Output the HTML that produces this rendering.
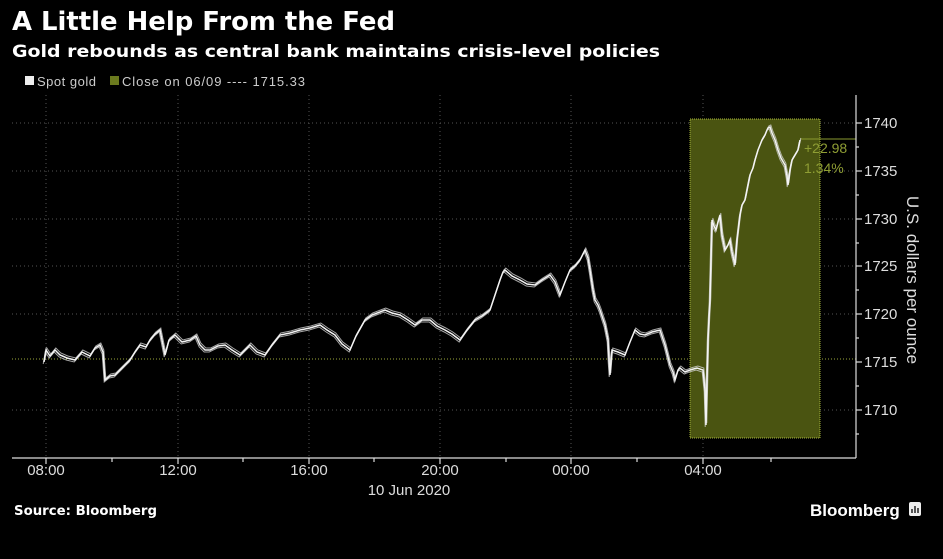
<!DOCTYPE html>
<html><head><meta charset="utf-8"><style>
body{margin:0;background:#000;width:943px;height:554px;overflow:hidden;font-family:"Liberation Sans",sans-serif;}
</style></head><body>
<svg width="943" height="554" xmlns="http://www.w3.org/2000/svg" xmlns:xlink="http://www.w3.org/1999/xlink" font-family="Liberation Sans, sans-serif">
<rect width="943" height="554" fill="#000"/>
<text x="12" y="30" fill="#fff" font-size="26" font-weight="bold" font-family="DejaVu Sans, sans-serif" textLength="383" lengthAdjust="spacingAndGlyphs">A Little Help From the Fed</text>
<text x="12" y="57" fill="#fff" font-size="17" font-weight="bold" font-family="DejaVu Sans, sans-serif" textLength="648" lengthAdjust="spacingAndGlyphs">Gold rebounds as central bank maintains crisis-level policies</text>
<rect x="25" y="76" width="9" height="9" fill="#eee"/>
<text x="37" y="86" fill="#ccc" font-size="13" textLength="59">Spot gold</text>
<rect x="110" y="76" width="9" height="9" fill="#6b7a1e"/>
<text x="122" y="86" fill="#ccc" font-size="13" textLength="183">Close on 06/09 ---- 1715.33</text>
<g stroke="#555" stroke-dasharray="1,3" stroke-width="1">
<line x1="46" y1="95" x2="46" y2="458"/><line x1="178" y1="95" x2="178" y2="458"/><line x1="309" y1="95" x2="309" y2="458"/><line x1="440" y1="95" x2="440" y2="458"/><line x1="571" y1="95" x2="571" y2="458"/><line x1="703" y1="95" x2="703" y2="458"/>
<line x1="12" y1="123" x2="856" y2="123"/><line x1="12" y1="171" x2="856" y2="171"/><line x1="12" y1="219" x2="856" y2="219"/><line x1="12" y1="266" x2="856" y2="266"/><line x1="12" y1="314" x2="856" y2="314"/><line x1="12" y1="410" x2="856" y2="410"/>
</g>
<line x1="12" y1="359" x2="856" y2="359" stroke="#9aa83a" stroke-dasharray="1,2"/>
<rect x="690" y="119" width="130" height="319" fill="#4a5411" stroke="#a8b83a" stroke-dasharray="1,1"/>
<line x1="800" y1="139" x2="856" y2="139" stroke="#8a9a30" stroke-width="1"/>
<defs>
<polyline id="pl" fill="none" points="44,362 46,350 50,356 55,350 60,355 67,358 75,360 82,352 90,356 95,348 100,345 103,352 105,380 110,376 115,375 122,368 130,360 135,352 140,345 146,347 150,340 155,334 160,330 163,345 165,355 169,340 175,335 182,342 190,340 196,336 200,345 205,350 210,350 218,346 225,345 232,350 240,355 245,350 250,345 257,352 265,355 272,345 280,335 290,333 300,330 310,328 320,325 327,330 335,335 342,344 350,350 356,336 365,320 372,315 385,310 392,313 400,315 408,320 415,325 422,320 430,320 437,326 445,330 452,334 460,340 467,330 475,320 482,316 490,310 495,295 500,280 503,272 505,270 512,276 520,280 527,284 535,285 542,280 550,275 555,282 560,295 565,282 570,270 575,266 580,260 583,254 585,250 588,258 590,270 593,290 595,300 598,305 600,310 605,325 608,340 609,360 610,375 611,362 612,350 618,352 625,355 630,342 635,330 640,334 645,335 652,332 660,330 665,345 670,365 673,372 675,380 678,370 680,368 685,372 690,370 697,368 703,370 705,390 706,425 707,380 708,340 709,318 710,300 711,260 712,220 714,226 716,230 718,222 720,215 722,235 725,250 728,245 730,240 732,252 735,265 737,240 740,215 742,205 745,200 748,185 750,175 753,168 755,160 758,150 760,145 762,140 765,135 767,130 768,128 770,127 772,133 775,140 778,150 781,158 785,165 787,176 788,185 790,170 792,160 795,155 798,150 800,140"/>
</defs>
<use xlink:href="#pl" stroke="#cfcfcf" stroke-width="1" transform="translate(0.8,-2)" opacity="0.8"/>
<use xlink:href="#pl" stroke="#cfcfcf" stroke-width="1" transform="translate(-0.8,2)" opacity="0.8"/>
<use xlink:href="#pl" stroke="#f4f4f4" stroke-width="1.5"/>
<text x="804" y="153" fill="#8f9e34" font-size="14">+22.98</text>
<text x="804" y="173" fill="#8f9e34" font-size="14">1.34%</text>
<g stroke="#ddd" stroke-width="1.2">
<line x1="12" y1="458" x2="856" y2="458"/><line x1="856" y1="95" x2="856" y2="458"/>
<line x1="46" y1="458" x2="46" y2="464"/><line x1="112" y1="458" x2="112" y2="462"/><line x1="178" y1="458" x2="178" y2="464"/><line x1="243" y1="458" x2="243" y2="462"/><line x1="309" y1="458" x2="309" y2="464"/><line x1="374" y1="458" x2="374" y2="462"/><line x1="440" y1="458" x2="440" y2="464"/><line x1="506" y1="458" x2="506" y2="462"/><line x1="571" y1="458" x2="571" y2="464"/><line x1="637" y1="458" x2="637" y2="462"/><line x1="703" y1="458" x2="703" y2="464"/><line x1="771" y1="458" x2="771" y2="462"/>
<line x1="856" y1="123" x2="862" y2="123"/><line x1="856" y1="171" x2="862" y2="171"/><line x1="856" y1="219" x2="862" y2="219"/><line x1="856" y1="266" x2="862" y2="266"/><line x1="856" y1="314" x2="862" y2="314"/><line x1="856" y1="362" x2="862" y2="362"/><line x1="856" y1="410" x2="862" y2="410"/>
<line x1="856" y1="147" x2="859" y2="147"/><line x1="856" y1="195" x2="859" y2="195"/><line x1="856" y1="243" x2="859" y2="243"/><line x1="856" y1="290" x2="859" y2="290"/><line x1="856" y1="338" x2="859" y2="338"/><line x1="856" y1="386" x2="859" y2="386"/><line x1="856" y1="434" x2="859" y2="434"/>
</g>
<g fill="#ddd" font-size="15">
<text x="864" y="128">1740</text><text x="864" y="176">1735</text><text x="864" y="224">1730</text><text x="864" y="271">1725</text><text x="864" y="319">1720</text><text x="864" y="367">1715</text><text x="864" y="415">1710</text>
</g>
<g fill="#ddd" font-size="15" text-anchor="middle">
<text x="46" y="475">08:00</text><text x="178" y="475">12:00</text><text x="309" y="475">16:00</text><text x="440" y="475">20:00</text><text x="571" y="475">00:00</text><text x="703" y="475">04:00</text>
<text x="409" y="495">10 Jun 2020</text>
</g>
<text transform="translate(907,280) rotate(90)" fill="#ddd" font-size="17" text-anchor="middle">U.S. dollars per ounce</text>
<text x="14" y="515" fill="#fff" font-size="13" font-weight="bold" font-family="DejaVu Sans, sans-serif" textLength="143" lengthAdjust="spacingAndGlyphs">Source: Bloomberg</text>
<text x="810" y="516" fill="#fff" font-size="17" font-weight="bold">Bloomberg</text>
<rect x="909" y="502" width="12" height="14" rx="2" fill="#eee"/>
<g stroke="#000" stroke-width="1.3"><line x1="912" y1="513" x2="912" y2="509"/><line x1="915" y1="513" x2="915" y2="506"/><line x1="918" y1="513" x2="918" y2="508"/></g>
</svg>
</body></html>
